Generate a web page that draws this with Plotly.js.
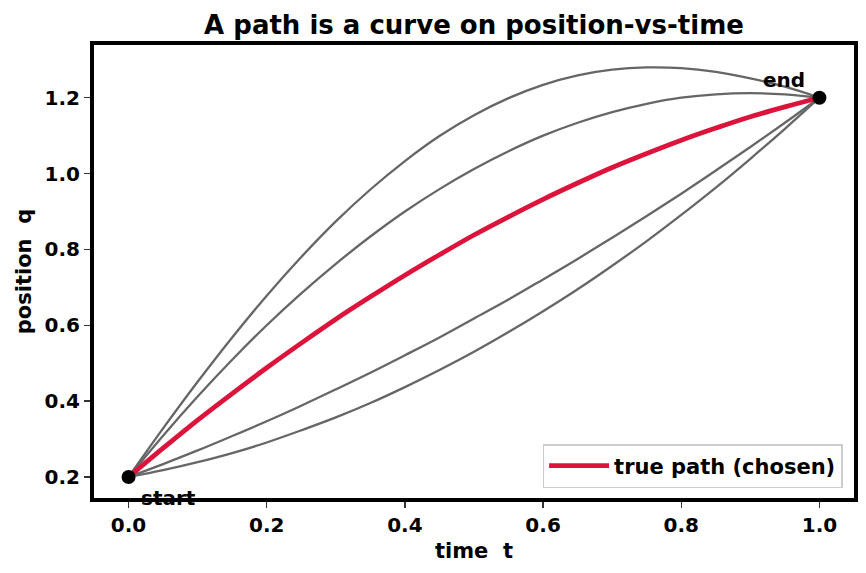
<!DOCTYPE html>
<html>
<head>
<meta charset="utf-8">
<script src="https://cdn.plot.ly/plotly-3.0.1.min.js"></script>
<style>body{margin:0;padding:0;background:#fff;} #chart{width:866px;height:573px;}</style>
</head>
<body>
<div id="chart"></div>
<script>
// time samples
const t = [0, 0.05, 0.1, 0.15, 0.2, 0.25, 0.3, 0.35, 0.4, 0.45, 0.5, 0.55, 0.6, 0.65, 0.7, 0.75, 0.8, 0.85, 0.9, 0.95, 1.0];
// alternative (grey) paths
const altPath1 = [0.2, 0.328, 0.451, 0.568, 0.678, 0.780, 0.874, 0.958, 1.033, 1.099, 1.154, 1.199, 1.234, 1.259, 1.274, 1.280, 1.278, 1.268, 1.251, 1.229, 1.2];
const altPath2 = [0.2, 0.309, 0.412, 0.509, 0.600, 0.684, 0.762, 0.834, 0.900, 0.959, 1.012, 1.059, 1.100, 1.134, 1.162, 1.184, 1.200, 1.209, 1.212, 1.209, 1.2];
const altPath3 = [0.2, 0.234, 0.270, 0.308, 0.347, 0.388, 0.431, 0.475, 0.521, 0.568, 0.618, 0.668, 0.721, 0.775, 0.831, 0.888, 0.947, 1.008, 1.070, 1.134, 1.2];
const altPath4 = [0.2, 0.218, 0.239, 0.263, 0.291, 0.323, 0.357, 0.395, 0.437, 0.482, 0.530, 0.582, 0.637, 0.695, 0.757, 0.822, 0.891, 0.963, 1.039, 1.118, 1.2];
// true path
const truePath = [0.2, 0.276, 0.350, 0.420, 0.488, 0.553, 0.616, 0.675, 0.732, 0.786, 0.838, 0.886, 0.932, 0.975, 1.016, 1.053, 1.088, 1.120, 1.150, 1.176, 1.2];
// endpoints
const endT = [0, 1];
const endQ = [0.2, 1.2];
const endLabels = ["start", "end"];
const xTicks = [0.0, 0.2, 0.4, 0.6, 0.8, 1.0];
const yTicks = [0.2, 0.4, 0.6, 0.8, 1.0, 1.2];

const FONT = "DejaVu Sans";
const grey = "#666666";
const altPaths = [altPath1, altPath2, altPath3, altPath4];

const traces = altPaths.map(p => ({
  x: t, y: p, type: "scatter", mode: "lines",
  line: {color: grey, width: 2.3, shape: "spline", smoothing: 1}, showlegend: false, hoverinfo: "skip"
}));
traces.push({
  x: t, y: truePath, type: "scatter", mode: "lines", name: "true path (chosen)",
  line: {color: "#DC143C", width: 4.8, shape: "spline", smoothing: 1}, showlegend: true
});
traces.push({
  x: endT, y: endQ, type: "scatter", mode: "markers",
  marker: {color: "#000000", size: 14}, showlegend: false
});

const axisCommon = {
  showgrid: false, zeroline: false, showline: true, mirror: true,
  linecolor: "#000000", linewidth: 4,
  ticks: "outside", ticklen: 6, tickwidth: 1.5, tickcolor: "#333333",
  tickfont: {family: FONT, size: 20, color: "#000000", weight: "bold"}
};

const layout = {
  width: 866, height: 573,
  margin: {l: 94, r: 12, t: 45, b: 75},
  paper_bgcolor: "#ffffff", plot_bgcolor: "#ffffff",
  font: {family: FONT, color: "#000000"},
  title: {
    text: "<b>A path is a curve on position-vs-time</b>",
    font: {family: FONT, size: 26, color: "#000000"},
    x: 0.5, xref: "paper", y: 1 - 25/573, yref: "container", yanchor: "middle"
  },
  xaxis: Object.assign({}, axisCommon, {
    range: [-0.05, 1.05], tickvals: xTicks, ticktext: xTicks.map(v => v.toFixed(1)),
    title: {text: "<b>time\u00a0 t</b>", font: {family: FONT, size: 21, color: "#000000"}, standoff: 8}
  }),
  yaxis: Object.assign({}, axisCommon, {
    range: [0.1446, 1.339], tickvals: yTicks, ticktext: yTicks.map(v => v.toFixed(1)),
    title: {text: "<b>position\u00a0 q</b>", font: {family: FONT, size: 21, color: "#000000"}, standoff: 8}
  }),
  legend: {
    x: 0.985, y: 0.022, xanchor: "right", yanchor: "bottom",
    bgcolor: "rgba(255,255,255,0.85)", bordercolor: "#cccccc", borderwidth: 1.5,
    itemwidth: 60,
    font: {family: FONT, size: 21, color: "#000000", weight: "bold"}
  },
  annotations: [
    {x: endT[0], y: endQ[0], xref: "x", yref: "y", text: "<b>" + endLabels[0] + "</b>", showarrow: false,
     xanchor: "left", yanchor: "middle", xshift: 10, yshift: -21,
     font: {family: FONT, size: 20, color: "#000000"}},
    {x: endT[1], y: endQ[1], xref: "x", yref: "y", text: "<b>" + endLabels[1] + "</b>", showarrow: false,
     xanchor: "right", yanchor: "middle", xshift: -12, yshift: 18,
     font: {family: FONT, size: 20, color: "#000000"}}
  ]
};

Plotly.newPlot("chart", traces, layout, {displayModeBar: false, staticPlot: true});
</script>
</body>
</html>
